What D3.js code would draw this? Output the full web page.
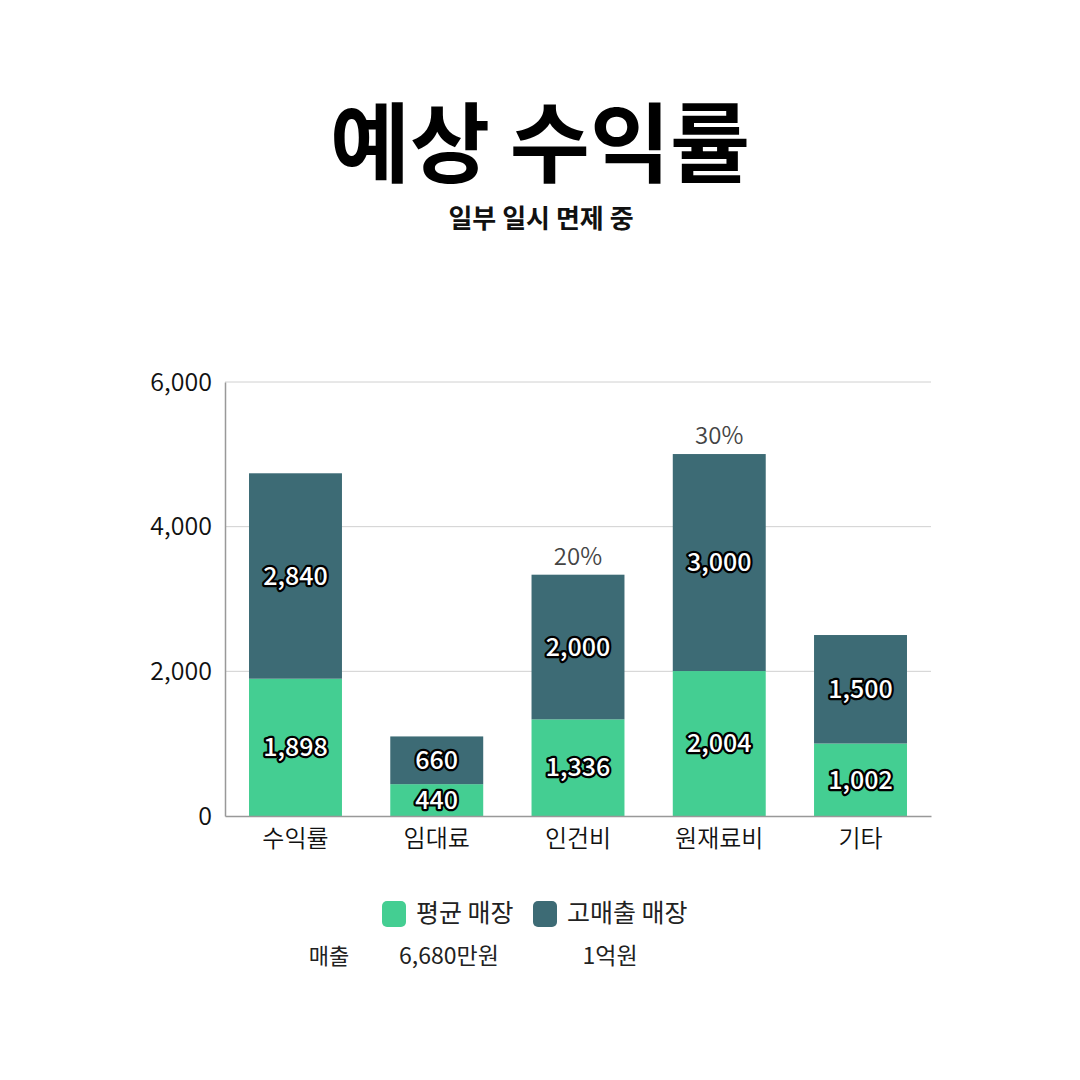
<!DOCTYPE html>
<html><head><meta charset="utf-8">
<script src="https://cdn.jsdelivr.net/npm/d3@7"></script>
<style>
html,body{margin:0;padding:0;background:#fff;}
text{font-family:"Noto Sans CJK KR","Noto Sans",sans-serif;}
</style></head>
<body>
<svg id="c" width="1080" height="1080"></svg>
<script>
const categories = ["수익률","임대료","인건비","원재료비","기타"];
const avgStore = [1898,440,1336,2004,1002];
const highStore = [2840,660,2000,3000,1500];
const topNotes = ["","","20%","30%",""];
const yTicks = [0,2000,4000,6000];
const seriesNames = ["평균 매장","고매출 매장"];
const salesLabel = "매출";
const salesValues = ["6,680만원","1억원"];
const colors = ["#44ce92","#3d6b75"];

const svg = d3.select("#c");
svg.append("rect").attr("width",1080).attr("height",1080).attr("fill","#fff");

svg.append("text").attr("x",540).attr("y",176).attr("text-anchor","middle")
  .attr("font-size",87).attr("font-weight",700).attr("fill","#000").text("예상 수익률");
svg.append("text").attr("x",541).attr("y",228).attr("text-anchor","middle")
  .attr("font-size",26).attr("font-weight",700).attr("fill","#111").text("일부 일시 면제 중");

const m = {l:225,r:931,t:382,b:816};
const x = d3.scaleBand().domain(categories).range([m.l,m.r]).paddingInner(0.342).paddingOuter(0.17);
const y = d3.scaleLinear().domain([0,6000]).range([m.b,m.t]);

const g = svg.append("g");
g.selectAll(".grid").data(yTicks.filter(d=>d>0)).enter().append("line")
  .attr("x1",m.l).attr("x2",m.r).attr("y1",d=>y(d)).attr("y2",d=>y(d))
  .attr("stroke","#d0d0d0").attr("stroke-width",1);

const yAxis = g.append("g").attr("transform",`translate(${m.l},0)`)
  .call(d3.axisLeft(y).tickValues(yTicks).tickFormat(d3.format(",")).tickSize(0).tickPadding(13));
yAxis.select(".domain").attr("stroke","#999").attr("stroke-width",1.5);
yAxis.selectAll("text").attr("font-size",25).attr("fill","#111").attr("font-weight",350)
  .style("font-family","'Noto Sans CJK KR','Noto Sans',sans-serif");

const stackData = categories.map((c,i)=>({cat:c, avg:avgStore[i], high:highStore[i]}));
const stack = d3.stack().keys(["avg","high"])(stackData);

stack.forEach((layer,li)=>{
  g.selectAll(".bar"+li).data(layer).enter().append("rect")
    .attr("x",d=>x(d.data.cat)).attr("width",x.bandwidth())
    .attr("y",d=>y(d[1])).attr("height",d=>y(d[0])-y(d[1]))
    .attr("fill",colors[li]);
});

const xAxis = g.append("g").attr("transform",`translate(0,${m.b})`)
  .call(d3.axisBottom(x).tickSize(0).tickPadding(14));
xAxis.select(".domain").attr("stroke","#999").attr("stroke-width",1.5);
xAxis.selectAll("text").attr("font-size",24).attr("fill","#111").attr("font-weight",350)
  .style("font-family","'Noto Sans CJK KR','Noto Sans',sans-serif");

stack.forEach((layer,li)=>{
  g.selectAll(".lbl"+li).data(layer).enter().append("text")
    .attr("x",d=>x(d.data.cat)+x.bandwidth()/2)
    .attr("y",d=>(y(d[0])+y(d[1]))/2)
    .attr("dy","0.35em").attr("text-anchor","middle")
    .attr("font-size",25).attr("font-weight",500)
    .style("font-family","'Noto Sans CJK KR','Noto Sans',sans-serif")
    .attr("fill","#fff").attr("stroke","#000").attr("stroke-width",4.5)
    .attr("stroke-linejoin","round").attr("paint-order","stroke")
    .text(d=>d3.format(",")(d[1]-d[0]));
});

g.selectAll(".note").data(stack[1]).enter().append("text")
  .attr("x",d=>x(d.data.cat)+x.bandwidth()/2)
  .attr("y",d=>y(d[1])-10)
  .attr("text-anchor","middle").attr("font-size",24).attr("fill","#444").attr("font-weight",350)
  .style("font-family","'Noto Sans CJK KR','Noto Sans',sans-serif")
  .text((d,i)=>topNotes[i]);

const legX = [382,533];
seriesNames.forEach((n,i)=>{
  svg.append("rect").attr("x",legX[i]).attr("y",901).attr("width",24).attr("height",26)
    .attr("rx",5).attr("fill",colors[i]);
  svg.append("text").attr("x",legX[i]+34).attr("y",922).attr("font-size",25)
    .attr("fill","#222").text(n);
});
svg.append("text").attr("x",329).attr("y",964).attr("text-anchor","middle")
  .attr("font-size",22).attr("font-weight",400).attr("fill","#222").text(salesLabel);
const salesX = [449,610];
salesValues.forEach((v,i)=>{
  svg.append("text").attr("x",salesX[i]).attr("y",964).attr("text-anchor","middle")
    .attr("font-size",23).attr("font-weight",400).attr("fill","#222").text(v);
});
</script>
</body></html>
